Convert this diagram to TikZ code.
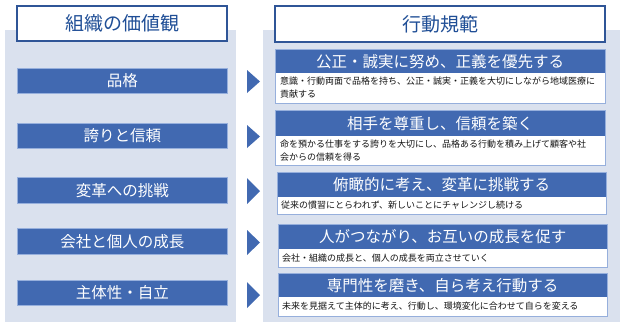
\documentclass[tikz,border=0pt]{standalone}
\usepackage{fontspec}
\setmainfont{Noto Sans CJK JP}
\definecolor{panelbg}{RGB}{218,225,238}
\definecolor{bandblue}{RGB}{65,105,177}
\definecolor{headblue}{RGB}{47,85,151}
\definecolor{headtext}{RGB}{31,78,150}
\definecolor{framelight}{RGB}{150,175,220}
\definecolor{desctext}{RGB}{20,20,20}
\tikzset{
  panel/.style={fill=panelbg, draw=none},
  headbox/.style={draw=headblue, line width=1.2pt, fill=white, text=headtext,
    font=\fontsize{19}{22}\selectfont, inner sep=0pt},
  valuebar/.style={draw=framelight, line width=0.6pt, fill=bandblue, text=white,
    font=\fontsize{15.5}{18}\selectfont, inner sep=0pt, minimum width=210pt, anchor=north west},
  titleband/.style={fill=bandblue, text=white, font=\fontsize{15.5}{18}\selectfont, inner sep=0pt, anchor=north west},
  descbox/.style={fill=white, inner sep=0pt, anchor=north west},
  desctxt/.style={text=desctext, font=\fontsize{9}{13}\selectfont, inner sep=0pt, align=left, anchor=west},
  boxframe/.style={draw=framelight, line width=0.8pt},
  chevron/.style={fill=bandblue, draw=none}
}
\begin{document}
\begin{tikzpicture}[x=1pt,y=-1pt]
\useasboundingbox (0,0) rectangle (624,327);
% panels
\fill[panel] (5,30) rectangle (236,322);
\fill[panel] (263,30) rectangle (620,322);
% headers
\node[headbox, minimum width=210pt, minimum height=35pt] (hl) at (122,23.5) {組織の価値観};
\node[headbox, minimum width=330pt, minimum height=36pt] (hr) at (440,24) {行動規範};
% left value bars
\node[valuebar, minimum height=25pt] (v1) at (17,68) {品格};
\node[valuebar, minimum height=25pt] (v2) at (17,123) {誇りと信頼};
\node[valuebar, minimum height=26pt] (v3) at (17,177) {変革への挑戦};
\node[valuebar, minimum height=26pt] (v4) at (17,228) {会社と個人の成長};
\node[valuebar, minimum height=25pt] (v5) at (17,280) {主体性・自立};
% chevrons
\fill[chevron] (247,70) -- (260,81.5) -- (247,93) -- cycle;
\fill[chevron] (247,125) -- (260,136.5) -- (247,148) -- cycle;
\fill[chevron] (247,178) -- (260,191) -- (247,204) -- cycle;
\fill[chevron] (247,230) -- (260,242.5) -- (247,255) -- cycle;
\fill[chevron] (247,282) -- (260,295) -- (247,308) -- cycle;
% right boxes
% box 1
\node[titleband, minimum width=330pt, minimum height=24pt] (t1) at (275,49) {公正・誠実に努め、正義を優先する};
\node[descbox, minimum width=330pt, minimum height=30pt] (d1) at (275,73) {};
\draw[boxframe] (t1.north west) rectangle (d1.south east);
\node[desctxt] (e1) at (280,88) {意識・行動両面で品格を持ち、公正・誠実・正義を大切にしながら地域医療に\\貢献する};
% box 2
\node[titleband, minimum width=330pt, minimum height=26pt] (t2) at (275,110) {相手を尊重し、信頼を築く};
\node[descbox, minimum width=330pt, minimum height=29pt] (d2) at (275,136) {};
\draw[boxframe] (t2.north west) rectangle (d2.south east);
\node[desctxt] (e2) at (280,150.5) {命を預かる仕事をする誇りを大切にし、品格ある行動を積み上げて顧客や社\\会からの信頼を得る};
% box 3
\node[titleband, minimum width=329pt, minimum height=25pt] (t3) at (277,172) {俯瞰的に考え、変革に挑戦する};
\node[descbox, minimum width=329pt, minimum height=17pt] (d3) at (277,197) {};
\draw[boxframe] (t3.north west) rectangle (d3.south east);
\node[desctxt] (e3) at (281,205.5) {従来の慣習にとらわれず、新しいことにチャレンジし続ける};
% box 4
\node[titleband, minimum width=329pt, minimum height=25pt] (t4) at (278,224) {人がつながり、お互いの成長を促す};
\node[descbox, minimum width=329pt, minimum height=18pt] (d4) at (278,249) {};
\draw[boxframe] (t4.north west) rectangle (d4.south east);
\node[desctxt] (e4) at (282,258) {会社・組織の成長と、個人の成長を両立させていく};
% box 5
\node[titleband, minimum width=329pt, minimum height=24pt] (t5) at (278,273) {専門性を磨き、自ら考え行動する};
\node[descbox, minimum width=329pt, minimum height=19pt] (d5) at (278,297) {};
\draw[boxframe] (t5.north west) rectangle (d5.south east);
\node[desctxt] (e5) at (282,306.5) {未来を見据えて主体的に考え、行動し、環境変化に合わせて自らを変える};
\end{tikzpicture}
\end{document}
